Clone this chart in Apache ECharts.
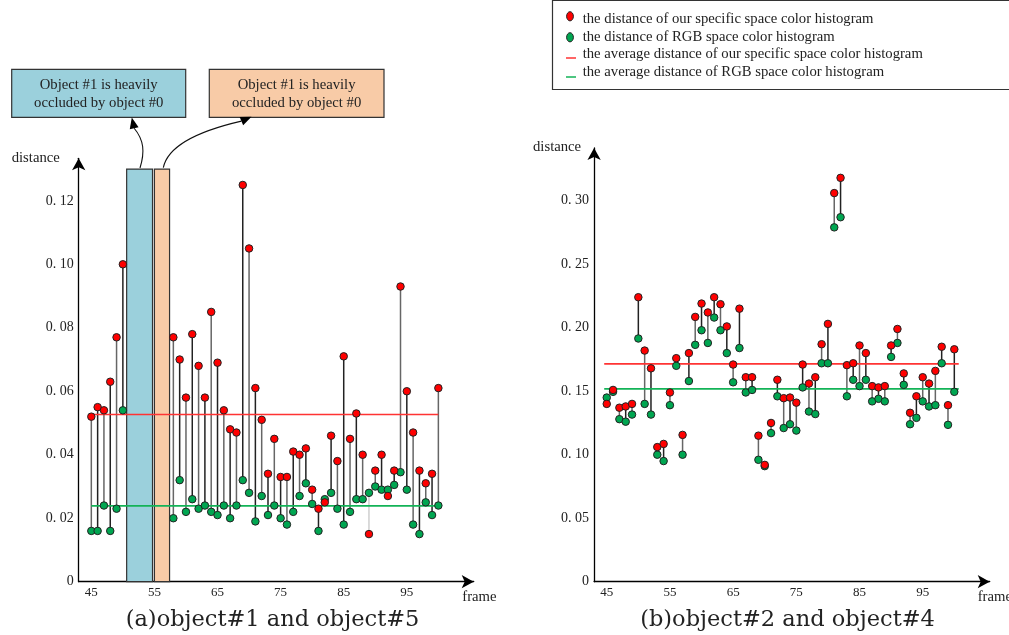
<!DOCTYPE html>
<html>
<head>
<meta charset="utf-8">
<script src="https://cdn.jsdelivr.net/npm/echarts@6/dist/echarts.min.js"></script>
<style>
html,body{margin:0;padding:0;background:#fff;}
#chart{width:1009px;height:635px;}
</style>
</head>
<body>
<div id="chart"></div>
<script>
// ---------------- data ----------------
var leftFrames = [45,46,47,48,49,50,58,59,60,61,62,63,64,65,66,67,68,69,70,71,72,73,74,75,76,77,78,79,80,81,82,83,84,85,86,87,88,89,90,91,92,93,94,95,96,97,98,99,100];
var leftOurs = [0.052,0.055,0.054,0.063,0.077,0.100,0.077,0.070,0.058,0.078,0.068,0.058,0.085,0.069,0.054,0.048,0.047,0.125,0.105,0.061,0.051,0.034,0.045,0.033,0.033,0.041,0.040,0.042,0.029,0.023,0.025,0.046,0.038,0.071,0.045,0.053,0.040,0.015,0.035,0.040,0.027,0.035,0.093,0.060,0.047,0.035,0.031,0.034,0.061];
var leftRGB = [0.016,0.016,0.024,0.016,0.023,0.054,0.020,0.032,0.022,0.026,0.023,0.024,0.022,0.021,0.024,0.020,0.024,0.032,0.028,0.019,0.027,0.021,0.024,0.020,0.018,0.022,0.027,0.031,0.0245,0.016,0.026,0.028,0.023,0.018,0.022,0.026,0.026,0.028,0.030,0.029,0.029,0.0305,0.0345,0.029,0.018,0.015,0.025,0.021,0.024];
var leftAvgOurs = 0.0527;
var leftAvgRGB = 0.0239;
var leftAvgSpan = [45, 100];
var occludedRanges = [[50.6, 54.7, 0.13], [55.0, 57.4, 0.13]];

var rightFrames = [45,46,47,48,49,50,51,52,53,54,55,56,57,58,59,60,61,62,63,64,65,66,67,68,69,70,71,72,73,74,75,76,77,78,79,80,81,82,83,84,85,86,87,88,89,90,91,92,93,94,95,96,97,98,99,100];
var rightOurs = [0.140,0.151,0.137,0.138,0.140,0.224,0.182,0.168,0.106,0.1085,0.149,0.176,0.1156,0.180,0.2085,0.219,0.212,0.224,0.2185,0.201,0.171,0.215,0.161,0.161,0.115,0.092,0.125,0.159,0.1445,0.145,0.141,0.171,0.156,0.161,0.187,0.203,0.306,0.318,0.1705,0.172,0.186,0.180,0.154,0.153,0.154,0.186,0.199,0.164,0.133,0.146,0.161,0.156,0.166,0.185,0.139,0.183];
var rightRGB = [0.145,0.1495,0.128,0.126,0.1316,0.1915,0.140,0.1316,0.100,0.095,0.139,0.170,0.100,0.158,0.1865,0.198,0.188,0.208,0.198,0.180,0.157,0.184,0.149,0.151,0.096,0.091,0.117,0.146,0.121,0.124,0.119,0.153,0.134,0.132,0.172,0.172,0.279,0.287,0.146,0.159,0.154,0.159,0.142,0.144,0.142,0.177,0.188,0.155,0.124,0.129,0.142,0.138,0.139,0.172,0.1235,0.1495];
var rightAvgOurs = 0.1715;
var rightAvgRGB = 0.1518;
var rightAvgSpan = [44.6, 100.7];

var xTickValues = [45,55,65,75,85,95];
var leftYTickLabels = ['0','0. 02','0. 04','0. 06','0. 08','0. 10','0. 12'];
var rightYTickLabels = ['0','0. 05','0. 10','0. 15','0. 20','0. 25','0. 30'];

var seriesNames = {
  ours: 'the distance of our specific space color histogram',
  rgb: 'the distance of RGB space color histogram',
  avgOurs: 'the average distance of our specific space color histogram',
  avgRGB: 'the average distance of RGB space color histogram'
};
var annotationText = 'Object #1 is heavily\noccluded by object #0';
var captions = ['(a)object#1 and object#5', '(b)object#2 and object#4'];

// ---------------- styling ----------------
var FONT = 'Liberation Serif';
var CAPTION_FONT = 'DejaVu Serif';
var RED = '#ff0000', GREEN = '#00a651';
var RED_LINE = '#ff3333', GREEN_LINE = '#13b357';
var BLUE_FILL = '#9bd0dc', ORANGE_FILL = '#f8cba7';

function xAxisCfg(gi) {
  return {
    type: 'value', gridIndex: gi, min: 43, max: 105.6, interval: 1,
    axisLine: {show: true, onZero: false, lineStyle: {color: '#000', width: 1.3}, symbol: ['none', 'arrow'], symbolSize: [10, 12]},
    axisTick: {show: false}, splitLine: {show: false},
    axisLabel: {
      margin: 4, color: '#222', fontFamily: FONT, fontSize: 13,
      formatter: function (v) { return xTickValues.indexOf(v) >= 0 ? String(v) : ''; }
    }
  };
}
function yAxisCfg(gi, max, step, labels) {
  return {
    type: 'value', gridIndex: gi, min: 0, max: max, interval: step,
    axisLine: {show: true, onZero: false, lineStyle: {color: '#000', width: 1.3}, symbol: ['none', 'arrow'], symbolSize: [10, 12]},
    axisTick: {show: false}, splitLine: {show: false},
    axisLabel: {
      margin: 5, color: '#222', fontFamily: FONT, fontSize: 14,
      formatter: function (v) {
        var k = v / step, r = Math.round(k);
        if (Math.abs(k - r) > 1e-6 || r >= labels.length) return '';
        return labels[r];
      }
    }
  };
}

function stemSeries(gi, frames, ours, rgb) {
  var data = frames.map(function (f, i) { return [f, ours[i], rgb[i]]; });
  return {
    type: 'custom', xAxisIndex: gi, yAxisIndex: gi, z: 2, silent: true,
    data: data,
    renderItem: function (params, api) {
      var p1 = api.coord([api.value(0), api.value(1)]);
      var p2 = api.coord([api.value(0), api.value(2)]);
      var col = api.value(2) > api.value(1) ? '#cfcfcf' : (params.dataIndex % 2 ? '#222' : '#666');
      return {type: 'line', shape: {x1: p1[0], y1: p1[1], x2: p2[0], y2: p2[1]}, style: {stroke: col, lineWidth: 1.5}};
    }
  };
}
function occlusionSeries(gi) {
  var fills = [BLUE_FILL, ORANGE_FILL];
  return {
    type: 'custom', xAxisIndex: gi, yAxisIndex: gi, z: 1, silent: true,
    data: occludedRanges,
    renderItem: function (params, api) {
      var a = api.coord([api.value(0), api.value(2)]);
      var b = api.coord([api.value(1), 0]);
      return {type: 'rect', shape: {x: a[0], y: a[1], width: b[0] - a[0], height: b[1] - a[1]},
        style: {fill: fills[params.dataIndex], stroke: '#333', lineWidth: 1.2}};
    }
  };
}
function avgSeries(gi, name, val, span, color) {
  return {
    name: name, type: 'line', xAxisIndex: gi, yAxisIndex: gi, z: 3, silent: true,
    symbol: 'none', data: [[span[0], val], [span[1], val]],
    lineStyle: {color: color, width: 1.6}
  };
}
function dotSeries(gi, name, frames, vals, color, z) {
  return {
    name: name, type: 'scatter', xAxisIndex: gi, yAxisIndex: gi, z: z, silent: true,
    symbolSize: 7.5,
    data: frames.map(function (f, i) { return [f, vals[i]]; }),
    itemStyle: {color: color, borderColor: '#222', borderWidth: 1, opacity: 1}
  };
}

function arrowHead(tx, ty, dx, dy, L, W) {
  var n = Math.sqrt(dx * dx + dy * dy); dx /= n; dy /= n;
  var bx = tx - dx * L, by = ty - dy * L;
  var px = -dy, py = dx;
  return {
    base: [bx, by],
    points: [[tx, ty], [bx + px * W / 2, by + py * W / 2], [bx - px * W / 2, by - py * W / 2]]
  };
}
var ahBlue = arrowHead(131.8, 117.5, -0.22, -1, 11, 9);
var ahOrange = arrowHead(251.5, 116.8, 0.93, -0.4, 11, 9);

var textStyleBase = {fontFamily: FONT, fill: '#222'};
function txt(x, y, text, size, extra) {
  return {type: 'text', x: x, y: y, z: 11,
    style: Object.assign({text: text, fontSize: size, verticalAlign: 'middle'}, textStyleBase, extra || {})};
}
var graphics = [
  // annotation boxes
  {type: 'rect', shape: {x: 11.7, y: 69.3, width: 174, height: 48}, style: {fill: BLUE_FILL, stroke: '#333', lineWidth: 1.2}, z: 10},
  txt(98.7, 94, annotationText, 14.7, {lineHeight: 18, align: 'center'}),
  {type: 'rect', shape: {x: 209.3, y: 69.3, width: 174.7, height: 48}, style: {fill: ORANGE_FILL, stroke: '#333', lineWidth: 1.2}, z: 10},
  txt(296.6, 94, annotationText, 14.7, {lineHeight: 18, align: 'center'}),
  // arrows
  {type: 'bezierCurve', shape: {x1: 140, y1: 168, cpx1: 145, cpy1: 152, cpx2: 144, cpy2: 140, x2: ahBlue.base[0], y2: ahBlue.base[1]}, style: {stroke: '#111', lineWidth: 1.1, fill: null}, z: 10},
  {type: 'polygon', shape: {points: ahBlue.points}, style: {fill: '#000'}, z: 10},
  {type: 'bezierCurve', shape: {x1: 163.3, y1: 167.7, cpx1: 167, cpy1: 150, cpx2: 190, cpy2: 133, x2: ahOrange.base[0], y2: ahOrange.base[1]}, style: {stroke: '#111', lineWidth: 1.1, fill: null}, z: 10},
  {type: 'polygon', shape: {points: ahOrange.points}, style: {fill: '#000'}, z: 10},
  // axis names
  txt(11.7, 157.7, 'distance', 14.7),
  txt(533, 147, 'distance', 14.7),
  txt(462.3, 597.3, 'frame', 14.7),
  txt(977.7, 597.3, 'frame', 14.7),
  // captions
  txt(272.5, 620, captions[0], 22.5, {align: 'center', fontFamily: CAPTION_FONT}),
  txt(787.5, 620, captions[1], 22.5, {align: 'center', fontFamily: CAPTION_FONT}),
  // legend
  {type: 'rect', shape: {x: 552.5, y: 0.5, width: 480, height: 89}, style: {fill: '#fff', stroke: '#333', lineWidth: 1.2}, z: 20},
  {type: 'ellipse', shape: {cx: 570, cy: 16.3, rx: 3.4, ry: 4.6}, style: {fill: RED, stroke: '#222', lineWidth: 1}, z: 21},
  {type: 'ellipse', shape: {cx: 570, cy: 37.3, rx: 3.4, ry: 4.6}, style: {fill: GREEN, stroke: '#222', lineWidth: 1}, z: 21},
  {type: 'line', shape: {x1: 566, y1: 58, x2: 576, y2: 58}, style: {stroke: RED_LINE, lineWidth: 1.5}, z: 21},
  {type: 'line', shape: {x1: 566, y1: 77, x2: 576, y2: 77}, style: {stroke: GREEN_LINE, lineWidth: 1.5}, z: 21},
  Object.assign(txt(582.7, 19, seriesNames.ours, 14.7), {z: 21}),
  Object.assign(txt(582.7, 37, seriesNames.rgb, 14.7), {z: 21}),
  Object.assign(txt(582.7, 54.5, seriesNames.avgOurs, 14.7), {z: 21}),
  Object.assign(txt(582.7, 72, seriesNames.avgRGB, 14.7), {z: 21})
];

var option = {
  animation: false,
  backgroundColor: '#fff',
  grid: [
    {left: 78.7, top: 158.3, width: 395, height: 423.4},
    {left: 594.1, top: 148, width: 395.6, height: 433.7}
  ],
  xAxis: [xAxisCfg(0), xAxisCfg(1)],
  yAxis: [yAxisCfg(0, 0.1334, 0.02, leftYTickLabels), yAxisCfg(1, 0.3415, 0.05, rightYTickLabels)],
  series: [
    occlusionSeries(0),
    stemSeries(0, leftFrames, leftOurs, leftRGB),
    avgSeries(0, seriesNames.avgOurs, leftAvgOurs, leftAvgSpan, RED_LINE),
    avgSeries(0, seriesNames.avgRGB, leftAvgRGB, leftAvgSpan, GREEN_LINE),
    dotSeries(0, seriesNames.rgb, leftFrames, leftRGB, GREEN, 4),
    dotSeries(0, seriesNames.ours, leftFrames, leftOurs, RED, 5),
    stemSeries(1, rightFrames, rightOurs, rightRGB),
    avgSeries(1, seriesNames.avgOurs, rightAvgOurs, rightAvgSpan, RED_LINE),
    avgSeries(1, seriesNames.avgRGB, rightAvgRGB, rightAvgSpan, GREEN_LINE),
    dotSeries(1, seriesNames.rgb, rightFrames, rightRGB, GREEN, 4),
    dotSeries(1, seriesNames.ours, rightFrames, rightOurs, RED, 5)
  ],
  graphic: graphics
};
var chart = echarts.init(document.getElementById('chart'), null, {renderer: 'canvas'});
chart.setOption(option);
</script>
</body>
</html>
